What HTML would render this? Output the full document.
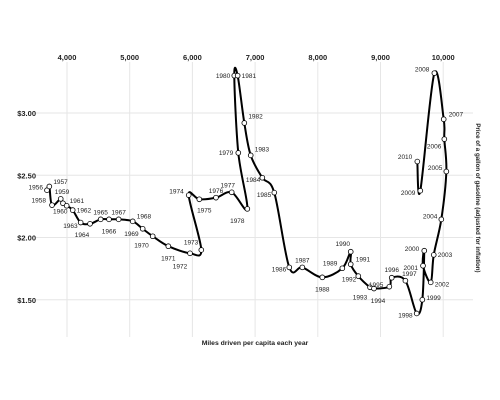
<!DOCTYPE html>
<html><head><meta charset="utf-8"><style>
html,body{margin:0;padding:0;background:#fff;}
svg{display:block;font-family:"Liberation Sans",sans-serif;}
.tick{font-size:7.5px;font-weight:bold;fill:#222;}
.lbl{font-size:6.5px;fill:#222;}
.grid{stroke:#e6e6e6;stroke-width:1;}
</style></head><body>
<svg id="chart" width="500" height="400"></svg>
<script>
const years=[1956,1957,1958,1959,1960,1961,1962,1963,1964,1965,1966,1967,1968,1969,1970,1971,1972,1973,1974,1975,1976,1977,1978,1979,1980,1981,1982,1983,1984,1985,1986,1987,1988,1989,1990,1991,1992,1993,1994,1995,1996,1997,1998,1999,2000,2001,2002,2003,2004,2005,2006,2007,2008,2009,2010];
const miles=[3681,3718,3761,3900,3936,3995,4091,4218,4367,4537,4670,4824,5048,5207,5367,5616,5962,6142,5941,6110,6376,6627,6876,6732,6668,6722,6828,6930,7115,7306,7545,7753,8072,8391,8525,8525,8646,8833,8896,9141,9179,9397,9577,9667,9698,9678,9801,9849,9970,10050,10018,10008,9859,9635,9587];
const prices=[2.38,2.41,2.26,2.31,2.275,2.255,2.22,2.12,2.11,2.146,2.146,2.146,2.13,2.07,2.01,1.93,1.873,1.90,2.34,2.307,2.32,2.363,2.23,2.68,3.30,3.30,2.92,2.66,2.48,2.36,1.76,1.76,1.68,1.753,1.886,1.785,1.69,1.60,1.59,1.605,1.677,1.653,1.39,1.50,1.894,1.773,1.64,1.86,2.146,2.53,2.79,2.95,3.32,2.376,2.61];
const xTicks=[4000,5000,6000,7000,8000,9000,10000];
const xTickLabels=["4,000","5,000","6,000","7,000","8,000","9,000","10,000"];
const yTicks=[1.5,2.0,2.5,3.0];
const yTickLabels=["$1.50","$2.00","$2.50","$3.00"];
// label placement (style, not data): [anchor, dx, dy]
const place=[["end",-4,-3],["start",4,-5],["end",-6,-5],["start",-6,-7],["start",-10,8],["start",3,-5],["start",4,0],["end",-3,3],["middle",-8,11],["middle",0,-7],["middle",0,12],["middle",0,-7],["start",4,-5],["end",-4,5],["end",-4,9],["middle",0,12],["middle",-10,13],["end",-3,-8],["end",-5,-4],["middle",5,11],["middle",0,-7],["middle",-4,-7],["middle",-10,12],["end",-5,0],["end",-4,0],["start",4,0],["start",4,-7],["start",4,-6],["end",-2,2],["end",-3,2],["end",-3,2],["middle",0,-7],["middle",0,12],["end",-5,-5],["middle",-8,-8],["start",5,-5],["end",-2,3],["middle",-10,10],["middle",4,12],["end",-6,-2],["middle",0,-8],["middle",4,-7],["end",-4,2],["start",4,-2],["end",-5,-2],["end",-5,2],["start",4,2],["start",4,0],["end",-4,-3],["end",-4,-4],["end",-3,7],["start",5,-5],["end",-5,-4],["end",-5,2],["end",-5,-5]];
const NS="http://www.w3.org/2000/svg";
const svg=document.getElementById('chart');
const x=v=>67+(v-4000)*0.0627;
const y=p=>113+(3-p)*124.5;
function mk(t,a,parent){const e=document.createElementNS(NS,t);for(const k in a)e.setAttribute(k,a[k]);(parent||svg).appendChild(e);return e;}
xTicks.forEach((v,i)=>{
 const l=mk('line',{x1:x(v),x2:x(v),y1:62,y2:337,class:'grid'});
 
 
 const t=mk('text',{x:x(v),y:60,'text-anchor':'middle',class:'tick'});t.textContent=xTickLabels[i];
 
 
});
yTicks.forEach((v,i)=>{
 const l=mk('line',{x1:36,x2:473,y1:y(v),y2:y(v),class:'grid'});
 
 
 const t=mk('text',{x:36,y:y(v)+3,'text-anchor':'end',class:'tick'});t.textContent=yTickLabels[i];
 
 
});
const P=miles.map((m,i)=>[x(m),y(prices[i])]);
let d=`M${P[0][0]},${P[0][1]}`;
for(let i=0;i<P.length-1;i++){
 const p0=P[i-1]||P[i],p1=P[i],p2=P[i+1],p3=P[i+2]||P[i+1],k=1/6;
 d+=` C${p1[0]+(p2[0]-p0[0])*k},${p1[1]+(p2[1]-p0[1])*k} ${p2[0]-(p3[0]-p1[0])*k},${p2[1]-(p3[1]-p1[1])*k} ${p2[0]},${p2[1]}`;
}
const path=mk('path',{d:d,fill:'none',stroke:'#000','stroke-width':2,'stroke-linejoin':'round'});


P.forEach((p,i)=>{
 const c=mk('circle',{cx:p[0],cy:p[1],r:2.4,fill:'#fff',stroke:'#000','stroke-width':0.8});
 
 
 const pl=place[i]||["start",4,0];
 const t=mk('text',{x:p[0]+pl[1],y:p[1]+pl[2]+2.3,'text-anchor':pl[0],class:'lbl'});t.textContent=years[i];
 
 
});
const xt=mk('text',{x:255,y:345,'text-anchor':'middle',class:'tick'});xt.textContent='Miles driven per capita each year';
xt.style.fontSize='6.8px';


const yt=mk('text',{x:476,y:198,'text-anchor':'middle',class:'tick',transform:'rotate(90 476 198)'});yt.textContent='Price of a gallon of gasoline (adjusted for inflation)';
yt.style.fontSize='6.2px';


</script>
</body></html>
